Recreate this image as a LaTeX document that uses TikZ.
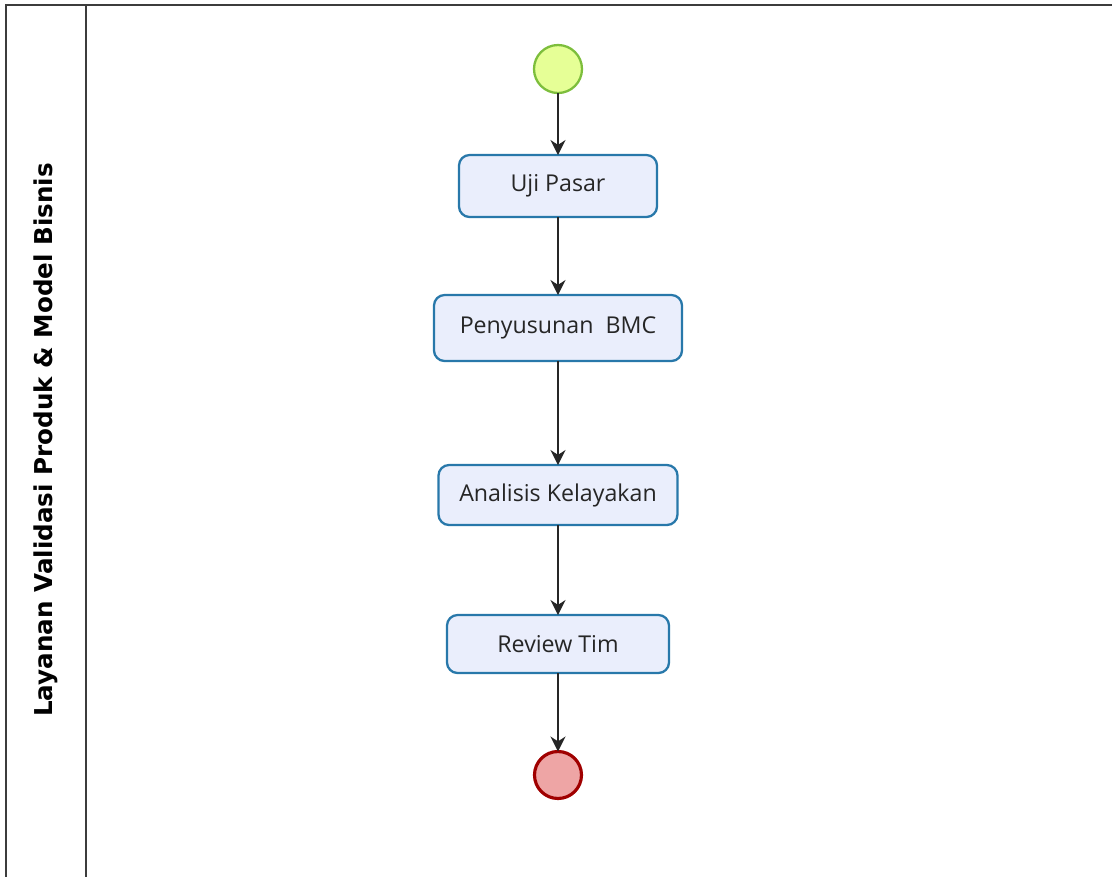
\documentclass[tikz,border=0pt]{standalone}
\usepackage{fontspec}
\setmainfont{Open Sans}
\newfontfamily\lanefont{DejaVu Sans}
\usepackage{tikz}
\usetikzlibrary{positioning,arrows.meta}
\definecolor{taskblue}{RGB}{40,120,170}
\definecolor{taskfill}{RGB}{234,238,252}
\definecolor{startgreen}{RGB}{125,190,60}
\definecolor{startfill}{RGB}{230,255,150}
\definecolor{endred}{RGB}{160,0,0}
\definecolor{endfill}{RGB}{238,165,165}
\definecolor{framegray}{RGB}{60,60,60}

\begin{document}
\begin{tikzpicture}[
    font=\fontsize{13.2}{15}\selectfont,
    task/.style={
      draw=taskblue, line width=1.3pt, rounded corners=6pt,
      fill=taskfill, text=black!85, inner sep=0pt, outer sep=0pt
    },
    startev/.style={
      circle, draw=startgreen, line width=1.3pt, fill=startfill,
      minimum size=0.96cm, inner sep=0pt, outer sep=0pt
    },
    endev/.style={
      circle, draw=endred, line width=1.8pt, fill=endfill,
      minimum size=0.94cm, inner sep=0pt, outer sep=0pt
    },
    flow/.style={-{Stealth[length=0.3cm,width=0.3cm]}, line width=0.8pt, black!85},
    lane/.style={draw=framegray, line width=1.2pt},
  ]
    \useasboundingbox (0,0) rectangle (22.24,-17.54);

    %── pool frame and lane ────────────────────────────────────────────
    \draw[lane] (0.12,-17.54) -- (0.12,-0.1) -- (22.24,-0.1);
    \draw[lane] (1.72,-0.1) -- (1.72,-17.54);
    \node[rotate=90, font=\lanefont\bfseries\fontsize{14}{16}\selectfont] (lanelbl) at (0.92,-8.8)
      {Layanan Validasi Produk \& Model Bisnis};

    %── flow nodes ─────────────────────────────────────────────────────
    \node[startev] (start) at (11.16,-1.38) {};
    \node[task, minimum width=3.96cm, minimum height=1.24cm, below=1.24cm of start] (uji) {Uji Pasar};
    \node[task, minimum width=4.96cm, minimum height=1.32cm, below=1.56cm of uji] (bmc) {Penyusunan~~BMC};
    \node[task, minimum width=4.78cm, minimum height=1.20cm, below=2.08cm of bmc] (analisis) {Analisis Kelayakan};
    \node[task, minimum width=4.44cm, minimum height=1.16cm, below=1.80cm of analisis] (review) {Review Tim};
    \node[endev] (end) at (11.16,-15.5) {};

    %── sequence flows ─────────────────────────────────────────────────
    \draw[flow] (start) -- (uji);
    \draw[flow] (uji) -- (bmc);
    \draw[flow] (bmc) -- (analisis);
    \draw[flow] (analisis) -- (review);
    \draw[flow] (review) -- (end);

  \end{tikzpicture}
\end{document}
